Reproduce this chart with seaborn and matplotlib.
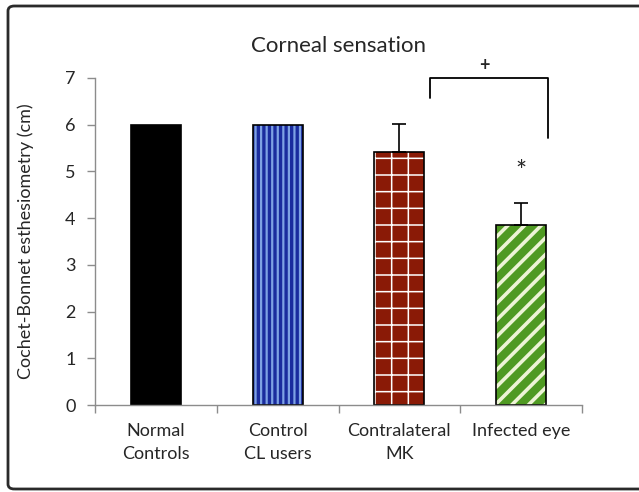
import matplotlib
matplotlib.use("Agg")
import matplotlib.pyplot as plt
from matplotlib.patches import FancyBboxPatch
import seaborn as sns
import pandas as pd

categories = ["Normal\nControls", "Control\nCL users", "Contralateral\nMK", "Infected eye"]
values = [6.0, 6.0, 5.42, 3.85]
errors = [0.0, 0.0, 0.60, 0.48]
yticks = [0, 1, 2, 3, 4, 5, 6, 7]
title = "Corneal sensation"
ylabel = "Cochet-Bonnet esthesiometry (cm)"

face_colors = ["#000000", "#7ea2e4", "#8a1a06", "#4f9a22"]
hatch_colors = ["#000000", "#1a2c9e", "#ffffff", "#eef4d6"]
hatches = ["", "|||", "+", "//"]
hatch_lws = [1.0, 2.4, 1.1, 2.6]

sns.set_theme(style="white")
plt.rcParams["font.family"] = ["Lato", "DejaVu Sans"]

df = pd.DataFrame({"group": categories, "value": values})

fig = plt.figure(figsize=(6.39, 4.92), dpi=100)
ax = fig.add_axes([95 / 639, 1 - 405 / 492, (582 - 95) / 639, (405 - 78) / 492])

# hatched fill layer
sns.barplot(data=df, x="group", y="value", ax=ax, width=0.41, color="black",
            errorbar=None, saturation=1)
for p, fc, hc, h, hl in zip(ax.patches, face_colors, hatch_colors, hatches, hatch_lws):
    p.set_facecolor(fc)
    p.set_edgecolor(hc)
    p.set_linewidth(0)
    p.set_hatch(h)
    if hasattr(p, "set_hatch_linewidth"):
        p.set_hatch_linewidth(hl)
    else:
        p._hatch_linewidth = hl
n_fill = len(ax.patches)

# outline layer
sns.barplot(data=df, x="group", y="value", ax=ax, width=0.41, fill=False,
            errorbar=None)
for p in ax.patches[n_fill:]:
    p.set_edgecolor("black")
    p.set_linewidth(1.2)
    p.set_facecolor("none")

# upper-only error bars
xs = list(range(len(categories)))
for x, v, e in zip(xs, values, errors):
    if e > 0:
        ax.errorbar(x, v, yerr=[[0], [e]], fmt="none", ecolor="black",
                    elinewidth=1.2, capsize=5, capthick=1.2)

# significance bracket
ax.plot([2.25, 2.25, 3.22, 3.22], [6.57, 7.0, 7.0, 5.72], color="black",
        lw=1.3, clip_on=False)
ax.text(2.70, 7.27, "+", ha="center", va="center", fontsize=13,
        fontweight="bold", clip_on=False)
ax.text(3.0, 4.98, "*", ha="center", va="center", fontsize=19)

ax.set_xlim(-0.5, 3.5)
ax.set_ylim(0, 7)
ax.set_yticks(yticks)
ax.set_yticklabels([str(t) for t in yticks], fontsize=13)
ax.set_xticks(xs)
ax.set_xticklabels(categories, fontsize=13, linespacing=1.55)
ax.set_xticks([-0.5, 0.5, 1.5, 2.5, 3.5], minor=True)
ax.tick_params(axis="x", which="major", length=0, pad=13)
ax.tick_params(axis="x", which="minor", length=6, color="#8c8c8c", width=1,
               direction="out", bottom=True)
ax.tick_params(axis="y", length=6, color="#8c8c8c", width=1, direction="out",
               left=True, pad=8)
for s in ["top", "right"]:
    ax.spines[s].set_visible(False)
for s in ["left", "bottom"]:
    ax.spines[s].set_color("#8c8c8c")
    ax.spines[s].set_linewidth(1)
ax.set_xlabel("")
ax.set_ylabel(ylabel, fontsize=13, labelpad=22)
ax.set_title(title, fontsize=16, pad=19)

border = FancyBboxPatch((8 / 639, 3 / 492), 640 / 639, 483 / 492,
                        boxstyle="round,pad=0,rounding_size=0.01",
                        transform=fig.transFigure, fill=False,
                        edgecolor="#2a2a2a", linewidth=2, clip_on=False)
fig.patches.append(border)

fig.savefig("out.png", dpi=100)
